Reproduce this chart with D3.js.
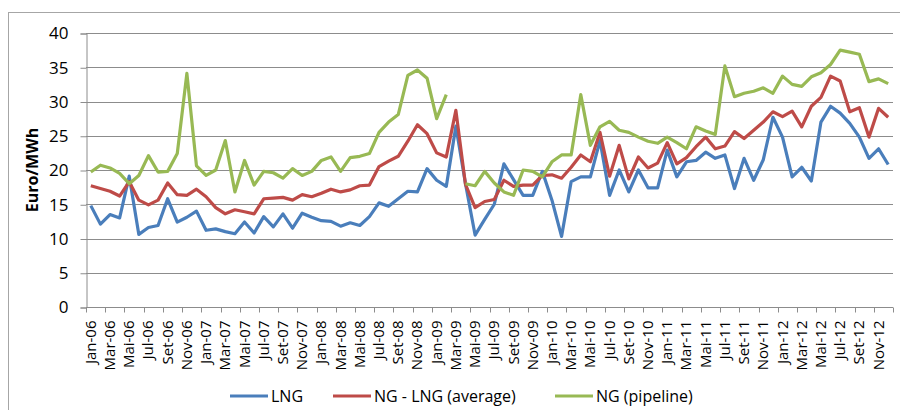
<!DOCTYPE html>
<html>
<head>
<meta charset="utf-8">
<script src="https://cdn.jsdelivr.net/npm/d3@7"></script>
<style>
  html, body { margin: 0; padding: 0; background: #fff; }
  svg { display: block; font-family: "Open Sans", "Noto Sans", sans-serif; }
</style>
</head>
<body>
<svg id="chart" width="900" height="410"></svg>
<script>
// Monthly categories Jan-06 .. Dec-12 (Portuguese month abbreviations)
const monthNames = ["Jan", "Fev", "Mar", "Abr", "Mai", "Jun", "Jul", "Ago", "Set", "Out", "Nov", "Dez"];
const years = ["06", "07", "08", "09", "10", "11", "12"];
const categories = years.flatMap(y => monthNames.map(m => m + "-" + y));

// Euro/MWh
const lng = [
  14.8, 12.1, 13.5, 13.0, 19.1, 10.6, 11.6, 11.9, 15.8, 12.4, 13.1, 14.0,
  11.2, 11.4, 11.0, 10.7, 12.4, 10.8, 13.2, 11.7, 13.6, 11.5, 13.7, 13.1,
  12.6, 12.5, 11.8, 12.3, 11.9, 13.2, 15.2, 14.7, 15.8, 16.9, 16.8, 20.2,
  18.5, 17.6, 26.4, 18.0, 10.5, 12.8, 15.0, 20.9, 18.6, 16.3, 16.3, 19.8,
  15.6, 10.3, 18.3, 19.0, 19.0, 24.3, 16.3, 20.0, 16.8, 20.0, 17.4, 17.4,
  22.9, 19.0, 21.2, 21.4, 22.6, 21.7, 22.2, 17.3, 21.7, 18.5, 21.5, 27.7,
  24.8, 19.0, 20.4, 18.4, 27.0, 29.3, 28.3, 26.8, 24.8, 21.7, 23.1, 20.8
];
const ngLngAverage = [
  17.7, 17.3, 16.9, 16.2, 18.3, 15.6, 14.9, 15.6, 18.1, 16.4, 16.3, 17.2,
  16.1, 14.5, 13.6, 14.2, 13.9, 13.6, 15.8, 15.9, 16.0, 15.6, 16.4, 16.1,
  16.6, 17.2, 16.8, 17.1, 17.7, 17.8, 20.5, 21.3, 22.0, 24.2, 26.6, 25.3,
  22.5, 21.9, 28.7, 17.9, 14.5, 15.4, 15.7, 18.5, 17.6, 17.8, 17.8, 19.2,
  19.3, 18.8, 20.4, 22.2, 21.2, 25.5, 19.1, 23.6, 18.7, 21.9, 20.3, 21.0,
  24.0, 20.9, 21.8, 23.4, 24.8, 23.1, 23.5, 25.6, 24.6, 25.8, 27.0, 28.5,
  27.8, 28.6, 26.3, 29.3, 30.6, 33.7, 33.0, 28.5, 29.1, 24.8, 29.0, 27.7
];
const ngPipeline = [
  19.7, 20.7, 20.3, 19.5, 18.0, 19.2, 22.1, 19.7, 19.8, 22.4, 34.1, 20.6,
  19.2, 20.0, 24.3, 16.8, 21.4, 17.8, 19.8, 19.6, 18.8, 20.2, 19.2, 19.8,
  21.4, 21.9, 19.8, 21.8, 22.0, 22.4, 25.5, 27.0, 28.1, 33.8, 34.6, 33.4,
  27.5, 31.0, null, 18.0, 17.7, 19.8, 18.1, 16.8, 16.3, 20.0, 19.8, 19.0,
  21.2, 22.2, 22.2, 31.0, 23.6, 26.3, 27.1, 25.8, 25.5, 24.8, 24.2, 23.9,
  24.8, 24.0, 23.1, 26.3, 25.7, 25.2, 35.2, 30.7, 31.2, 31.5, 32.0, 31.2,
  33.7, 32.5, 32.2, 33.6, 34.2, 35.4, 37.5, 37.2, 36.9, 32.9, 33.3, 32.6
];

const yTicks = [0, 5, 10, 15, 20, 25, 30, 35, 40];
const seriesNames = ["LNG", "NG - LNG (average)", "NG (pipeline)"];
const seriesColors = ["#4A7EBB", "#BE4B48", "#98B954"];
const seriesValues = [lng, ngLngAverage, ngPipeline];

const svg = d3.select("#chart");
const plot = { left: 86, right: 893, top: 33, bottom: 307 };

// chart-area border
svg.append("rect")
  .attr("x", 8.5).attr("y", 12.5)
  .attr("width", 1000).attr("height", 1000)
  .attr("fill", "none").attr("stroke", "#a6a6a6").attr("stroke-width", 1);

const x = d3.scaleBand().domain(categories).range([plot.left, plot.right]).paddingInner(0).paddingOuter(0);
const y = d3.scaleLinear().domain([0, 40]).range([plot.bottom, plot.top]);

// horizontal gridlines
svg.append("g").selectAll("line")
  .data(yTicks.filter(d => d > 0))
  .join("line")
  .attr("x1", plot.left).attr("x2", plot.right)
  .attr("y1", d => Math.round(y(d)) + 0.5).attr("y2", d => Math.round(y(d)) + 0.5)
  .attr("stroke", "#8c8c8c").attr("stroke-width", 1);

// y axis
const yAxis = d3.axisLeft(y).tickValues(yTicks).tickSize(6).tickPadding(12).tickFormat(d3.format("d"));
const gy = svg.append("g").attr("transform", `translate(${plot.left + 0.5},0.5)`).call(yAxis);
gy.select(".domain").attr("stroke", "#8c8c8c");
gy.selectAll(".tick line").attr("stroke", "#8c8c8c");
gy.selectAll(".tick text").attr("font-size", 17).attr("fill", "#000")
  .attr("font-family", "'Open Sans', sans-serif");

// x axis: ticks on every second category boundary, labels on every second category
const gx = svg.append("g").attr("transform", `translate(0,${Math.round(plot.bottom) + 0.5})`);
gx.append("line").attr("x1", plot.left).attr("x2", plot.right).attr("stroke", "#8c8c8c");
const boundaryIdx = d3.range(0, categories.length + 1, 2);
gx.selectAll("line.tk").data(boundaryIdx).join("line").attr("class", "tk")
  .attr("x1", i => Math.round(plot.left + i * x.bandwidth()) + 0.5)
  .attr("x2", i => Math.round(plot.left + i * x.bandwidth()) + 0.5)
  .attr("y1", 0).attr("y2", 5).attr("stroke", "#8c8c8c");
const labelCats = categories.filter((c, i) => i % 2 === 0);
gx.selectAll("text").data(labelCats).join("text")
  .attr("transform", c => `translate(${x(c) + x.bandwidth() / 2 + 5},${13}) rotate(-90)`)
  .attr("text-anchor", "end")
  .attr("font-size", 15)
  .attr("font-family", "'Open Sans', sans-serif")
  .attr("fill", "#000")
  .text(c => c);

// y axis title
svg.append("text")
  .attr("transform", `translate(38,${(plot.top + plot.bottom) / 2}) rotate(-90)`)
  .attr("text-anchor", "middle")
  .attr("font-size", 16).attr("font-weight", "bold")
  .attr("font-family", "'Open Sans', sans-serif")
  .text("Euro/MWh");

// series lines
const line = d3.line()
  .defined(d => d.v !== null)
  .x(d => x(d.c) + x.bandwidth() / 2)
  .y(d => y(d.v));

seriesValues.forEach((vals, k) => {
  const pts = categories.map((c, i) => ({ c, v: vals[i] }));
  svg.append("path")
    .datum(pts)
    .attr("d", line)
    .attr("fill", "none")
    .attr("stroke", seriesColors[k])
    .attr("stroke-width", 3.2)
    .attr("stroke-linejoin", "round");
});

// legend
const legendX = [230, 333, 555];
const lg = svg.append("g");
seriesNames.forEach((name, k) => {
  lg.append("line")
    .attr("x1", legendX[k]).attr("x2", legendX[k] + 38)
    .attr("y1", 396).attr("y2", 396)
    .attr("stroke", seriesColors[k]).attr("stroke-width", 3.2);
  lg.append("text")
    .attr("x", legendX[k] + 41).attr("y", 396)
    .attr("dy", "0.35em")
    .attr("font-size", 16)
    .attr("font-family", "'Open Sans', sans-serif")
    .text(name);
});
</script>
</body>
</html>
